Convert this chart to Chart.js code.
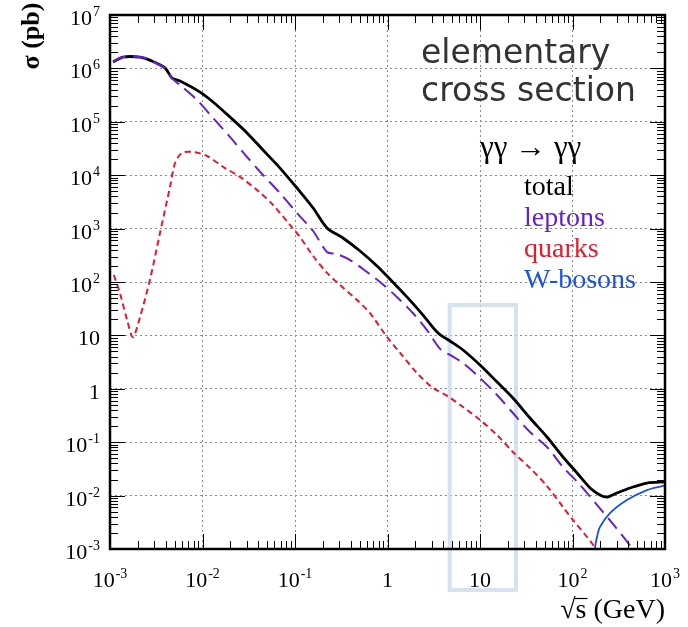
<!DOCTYPE html>
<html>
<head>
<meta charset="utf-8">
<script src="https://cdn.jsdelivr.net/npm/chart.js@4.4.1/dist/chart.umd.min.js"></script>
<style>
  body { margin: 0; background: #fff; }
  #wrap { width: 688px; height: 627px; }
</style>
</head>
<body>
<div id="wrap"><canvas id="xsec"></canvas></div>
<script>
// gamma gamma -> gamma gamma, sqrt(s) in GeV, sigma in pb
const totalX = [1.08e-3, 1.38e-3, 2.11e-3, 2.7e-3, 3.93e-3, 4.68e-3, 5.71e-3, 9.4e-3, 1.3e-2, 1.98e-2, 3.03e-2, 4.51e-2, 6.89e-2, 0.105, 0.157, 0.222, 0.33, 0.505, 0.77, 1.06, 1.63, 2.42, 3.52, 4.74, 6.55, 10, 15.3, 22.7, 34.7, 53, 78.9, 112, 155, 198, 236, 303, 419, 638, 1000];
const totalY = [1.32e6, 1.63e6, 1.63e6, 1.43e6, 1.02e6, 6.6e5, 5.8e5, 3.6e5, 2.35e5, 1.23e5, 6.2e4, 2.96e4, 1.36e4, 5.76e3, 2.43e3, 1.03e3, 667, 381, 200, 114, 52, 24, 11.1, 7.85, 5.33, 2.79, 1.34, 0.673, 0.284, 0.125, 0.0528, 0.0265, 0.0139, 0.0103, 0.0094, 0.0112, 0.0139, 0.0172, 0.018];

const leptonX = [1.08e-3, 1.38e-3, 2.11e-3, 2.7e-3, 3.93e-3, 4.68e-3, 5.71e-3, 8.73e-3, 1.3e-2, 1.98e-2, 3.03e-2, 4.51e-2, 6.89e-2, 0.105, 0.157, 0.222, 0.284, 0.394, 0.6, 0.83, 1.27, 1.89, 2.67, 3.7, 4.74, 6.55, 10, 15.3, 22.7, 34.7, 53, 78.9, 121, 184, 274, 440, 700];
const leptonY = [1.32e6, 1.63e6, 1.63e6, 1.43e6, 1.0e6, 6.5e5, 4.9e5, 2.56e5, 1.18e5, 5.2e4, 2.19e4, 1.01e4, 4.6e3, 1.96e3, 902, 365, 334, 258, 154, 100, 52, 26, 12.6, 5.6, 4.3, 3.04, 1.59, 0.766, 0.352, 0.155, 0.0813, 0.0343, 0.0158, 6.7e-3, 2.94e-3, 1.04e-3, 3.5e-4];

const quarkX = [1.1e-3, 1.28e-3, 1.53e-3, 1.77e-3, 2.11e-3, 2.7e-3, 3.47e-3, 4.45e-3, 5.05e-3, 6.0e-3, 7.88e-3, 1.12e-2, 1.67e-2, 2.54e-2, 3.88e-2, 5.78e-2, 8.83e-2, 0.113, 0.157, 0.222, 0.306, 0.468, 0.647, 0.99, 1.37, 2.08, 3.1, 4.51, 6.55, 10, 15.3, 22.7, 34.7, 53, 78.9, 101, 167, 250];
const quarkY = [135, 62, 19.4, 9.3, 22, 109, 828, 6.0e3, 1.69e4, 2.6e4, 2.72e4, 2.29e4, 1.43e4, 9.3e3, 5.3e3, 2.77e3, 1.17e3, 697, 307, 148, 88, 46, 26, 9.3, 4.7, 1.98, 1.04, 0.72, 0.456, 0.261, 0.136, 0.0655, 0.0329, 0.0151, 6.1e-3, 3.5e-3, 1.19e-3, 3.5e-4];

const wbosonX = [163, 170, 175, 184, 198, 254, 388, 638, 929, 1000];
const wbosonY = [2e-4, 5e-4, 1.04e-3, 1.68e-3, 2.58e-3, 4.72e-3, 8.3e-3, 0.0127, 0.0151, 0.0155];

const xDecades = [1e-3, 1e-2, 1e-1, 1, 10, 100, 1000];
const yDecades = [1e-3, 1e-2, 1e-1, 1, 10, 100, 1e3, 1e4, 1e5, 1e6, 1e7];
const xTickLabels = [['10', '-3'], ['10', '-2'], ['10', '-1'], ['1', ''], ['10', ''], ['10', '2'], ['10', '3']];
const yTickLabels = [['10', '-3'], ['10', '-2'], ['10', '-1'], ['1', ''], ['10', ''], ['10', '2'], ['10', '3'], ['10', '4'], ['10', '5'], ['10', '6'], ['10', '7']];

const seriesNames = ['total', 'leptons', 'quarks', 'W-bosons'];
const seriesColors = ['#000000', '#6a1fcc', '#e8192c', '#1a52e6'];

// highlighted energy window (sqrt(s) range, sigma range)
const windowX = [4.7, 24.5];
const windowY = [37, 1.7e-4];

const serif = '"Liberation Serif", "Times New Roman", serif';

function pts(xs, ys) {
  return xs.map((x, i) => ({ x: x, y: ys[i] }));
}

function powerLabel(ctx, base, exp, x, y, align) {
  ctx.font = '22px ' + serif;
  const bw = ctx.measureText(base).width;
  ctx.font = '14px ' + serif;
  const ew = exp ? ctx.measureText(exp).width + 1 : 0;
  const w = bw + ew;
  const left = align === 'right' ? x - w : x - w / 2;
  ctx.textAlign = 'left';
  ctx.textBaseline = 'alphabetic';
  ctx.font = '22px ' + serif;
  ctx.fillText(base, left, y);
  if (exp) {
    ctx.font = '14px ' + serif;
    ctx.fillText(exp, left + bw + 1, y - 9);
  }
}

const decor = {
  id: 'decor',
  beforeDatasetsDraw(chart) {
    const ctx = chart.ctx;
    const xs = chart.scales.x, ys = chart.scales.y;
    const l = xs.getPixelForValue(windowX[0]), r = xs.getPixelForValue(windowX[1]);
    const t = ys.getPixelForValue(windowY[0]), b = ys.getPixelForValue(windowY[1]);
    ctx.save();
    ctx.strokeStyle = 'rgba(200,216,236,0.75)';
    ctx.lineWidth = 4;
    ctx.strokeRect(l, t, r - l, b - t);
    ctx.restore();
  },
  afterDraw(chart) {
    const ctx = chart.ctx;
    const a = chart.chartArea;
    const xs = chart.scales.x, ys = chart.scales.y;
    ctx.save();
    ctx.strokeStyle = '#000';

    // minor and major ticks on all four sides, pointing inward
    ctx.lineWidth = 1;
    ctx.beginPath();
    for (let d = 0; d < xDecades.length; d++) {
      for (let m = 1; m <= 9; m++) {
        const v = xDecades[d] * m;
        if (v > 1000) break;
        const px = Math.round(xs.getPixelForValue(v)) + 0.5;
        const len = m === 1 ? 15 : 8;
        ctx.moveTo(px, a.bottom); ctx.lineTo(px, a.bottom - len);
        ctx.moveTo(px, a.top); ctx.lineTo(px, a.top + len);
      }
    }
    for (let d = 0; d < yDecades.length; d++) {
      for (let m = 1; m <= 9; m++) {
        const v = yDecades[d] * m;
        if (v > 1e7) break;
        const py = Math.round(ys.getPixelForValue(v)) + 0.5;
        const len = m === 1 ? 15 : 8;
        ctx.moveTo(a.left, py); ctx.lineTo(a.left + len, py);
        ctx.moveTo(a.right, py); ctx.lineTo(a.right - len, py);
      }
    }
    ctx.stroke();

    // frame
    ctx.lineWidth = 2.5;
    ctx.strokeRect(a.left, a.top, a.right - a.left, a.bottom - a.top);

    // tick labels
    ctx.fillStyle = '#000';
    xDecades.forEach((v, i) => {
      powerLabel(ctx, xTickLabels[i][0], xTickLabels[i][1], xs.getPixelForValue(v), 587, 'center');
    });
    yDecades.forEach((v, i) => {
      powerLabel(ctx, yTickLabels[i][0], yTickLabels[i][1], 100, ys.getPixelForValue(v) + 10, 'right');
    });

    // axis titles
    ctx.font = 'bold 26px ' + serif;
    ctx.textAlign = 'center';
    ctx.textBaseline = 'middle';
    ctx.save();
    ctx.translate(32, 36);
    ctx.rotate(-Math.PI / 2);
    ctx.fillText('σ (pb)', 0, 0);
    ctx.restore();

    ctx.font = '28px ' + serif;
    ctx.textAlign = 'right';
    ctx.textBaseline = 'alphabetic';
    const xt = '√s (GeV)';
    ctx.fillText(xt, a.right, 618);
    const tw = ctx.measureText(xt).width;
    const rw = ctx.measureText('√').width;
    const sw = ctx.measureText('s').width;
    ctx.lineWidth = 1.2;
    ctx.beginPath();
    ctx.moveTo(a.right - tw + rw - 1, 598.5);
    ctx.lineTo(a.right - tw + rw + sw + 1, 598.5);
    ctx.stroke();

    // caption
    ctx.fillStyle = '#333';
    ctx.font = '33px "DejaVu Sans", sans-serif';
    ctx.textAlign = 'left';
    ctx.fillText('elementary', 421, 63);
    ctx.fillText('cross section', 421, 101);

    ctx.fillStyle = '#000';
    ctx.font = '31px ' + serif;
    ctx.fillText('γγ → γγ', 480, 157);

    ctx.font = '28px ' + serif;
    seriesNames.forEach((n, i) => {
      ctx.fillStyle = seriesColors[i];
      ctx.fillText(n, 524, 195 + i * 31);
    });
    ctx.restore();
  }
};

const gridOpts = {
  color: '#8a8a8a',
  lineWidth: 1,
  drawTicks: false
};

new Chart(document.getElementById('xsec'), {
  type: 'line',
  data: {
    datasets: [
      { label: seriesNames[0], data: pts(totalX, totalY), borderColor: seriesColors[0], borderWidth: 2.8, order: 3 },
      { label: seriesNames[1], data: pts(leptonX, leptonY), borderColor: seriesColors[1], borderWidth: 2, borderDash: [14, 7], order: 2 },
      { label: seriesNames[2], data: pts(quarkX, quarkY), borderColor: seriesColors[2], borderWidth: 2, borderDash: [6, 4], order: 1 },
      { label: seriesNames[3], data: pts(wbosonX, wbosonY), borderColor: seriesColors[3], borderWidth: 1.8, order: 0 }
    ]
  },
  options: {
    responsive: true,
    maintainAspectRatio: false,
    animation: false,
    layout: { padding: { top: 15, right: 23, left: 0, bottom: 0 } },
    elements: {
      point: { radius: 0 },
      line: { tension: 0.3, fill: false }
    },
    scales: {
      x: {
        type: 'logarithmic',
        min: 1e-3,
        max: 1e3,
        grid: gridOpts,
        border: { display: false, dash: [2, 3] },
        ticks: { display: false },
        afterBuildTicks: s => { s.ticks = xDecades.map(v => ({ value: v })); },
        afterFit: s => { s.height = 78; }
      },
      y: {
        type: 'logarithmic',
        min: 1e-3,
        max: 1e7,
        grid: gridOpts,
        border: { display: false, dash: [2, 3] },
        ticks: { display: false },
        afterBuildTicks: s => { s.ticks = yDecades.map(v => ({ value: v })); },
        afterFit: s => { s.width = 110; }
      }
    },
    plugins: {
      legend: { display: false },
      tooltip: { enabled: false }
    }
  },
  plugins: [decor]
});
</script>
</body>
</html>
